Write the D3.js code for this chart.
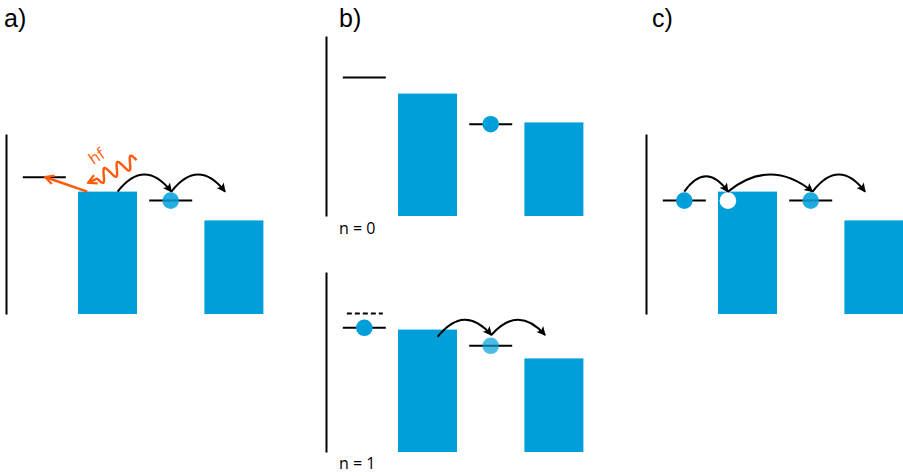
<!DOCTYPE html>
<html>
<head>
<meta charset="utf-8">
<script src="https://cdn.jsdelivr.net/npm/d3@7"></script>
<style>
    body { margin: 0; background: #fff; }
</style>
</head>
<body>
<div id="canvas"></div>
<script>
"use strict"

/* energies are in arbitrary units: 0 = bottom of a panel, 100 = top of its axis
   sites: 0 = left level, 1 = first barrier, 2 = middle level, 3 = second barrier */
const panelLabels = ["a)", "b)", "c)"];
const stateLabels = ["n = 0", "n = 1"];
const photonLabel = "hf";

const barSites = [1, 3];
const barTops = [68, 52];

/* level lines: [site, energy] */
const levelsA = [[0, 76], [2, 63]];
const levelsB0 = [[0, 77], [2, 51]];
const levelsB1 = [[0, 69], [2, 59]];
const dashedB1 = [[0, 77]];
const levelsC = [[0, 63], [2, 63]];

/* electrons: [site, energy, opacity] */
const electronsA = [[2, 63, 0.85]];
const electronsB0 = [[2, 51, 1]];
const electronsB1 = [[0, 69, 1], [2, 59, 0.7]];
const electronsC = [[0, 63, 1], [2, 63, 0.88]];

/* holes: [site, energy] */
const holesC = [[0.69, 63]];

/* hops: [site from, energy from, site to, energy to, peak energy] */
const hopsA = [[1.16, 68, 2.01, 68, 77.5], [2.01, 68, 2.86, 68, 77.5]];
const hopsB1 = [[1.16, 64, 2.01, 65, 73.5], [2.01, 65, 2.86, 65, 73.5]];
const hopsC = [[0, 68, 0.69, 68, 76.5], [0.69, 68, 2.03, 68, 77.5], [2.03, 68, 2.86, 68, 77.5]];

/* photon emission in panel a: [site, energy] */
const emissionA = [[0.68, 68], [0.02, 76]];
const photonA = [[1.46, 85.5], [0.7, 73]];
const photonTextA = [0.84, 87];

const blue = "#009fda";
const orange = "#ff5a0a";

let drawing = d3.select("#canvas")
    .append("svg")
    .attr("width", 903)
    .attr("height", 476);

/* scales shared by every panel */
let x = d3.scaleLinear().domain([0, 3]).range([44.3, 233.9]);
let y = d3.scaleLinear().domain([0, 100]).range([0, -180]);

/* markers for arrow heads */
let defs = drawing.append("defs");
defs.append("marker")
    .attr("id", "headBlack")
    .attr("markerUnits", "userSpaceOnUse")
    .attr("viewBox", "-10 -6 12 12")
    .attr("markerWidth", 12)
    .attr("markerHeight", 12)
    .attr("orient", "auto")
    .append("path")
    .attr("d", "M-8,-4.5 L1,0 L-8,4.5 L-6,0 Z")
    .attr("fill", "black");

defs.append("marker")
    .attr("id", "headOrange")
    .attr("markerUnits", "userSpaceOnUse")
    .attr("viewBox", "-10 -6 12 12")
    .attr("markerWidth", 12)
    .attr("markerHeight", 12)
    .attr("orient", "auto")
    .append("path")
    .attr("d", "M-8,-4.5 L0.5,0 L-8,4.5")
    .attr("fill", "none")
    .attr("stroke", orange)
    .attr("stroke-width", 2.2);

/* one panel of the diagram */
function drawPanel(left, base, levels, dashed, electrons, holes, hops) {
    let g = drawing.append("g")
        .attr("transform", "translate(" + left + "," + base + ")");

    /* energy axis, plain line without ticks */
    g.append("g")
        .attr("transform", "translate(6,0)")
        .call(d3.axisLeft(y).ticks(0).tickSizeOuter(0))
        .select(".domain")
        .attr("stroke-width", 2);

    /* barriers */
    g.selectAll(".bar")
        .data(barSites.map((s, i) => [s, barTops[i]]))
        .enter().append("rect")
        .attr("x", d => x(d[0]) - 29.5)
        .attr("y", d => y(d[1]))
        .attr("width", 59)
        .attr("height", d => y(0) - y(d[1]))
        .attr("fill", blue);

    /* levels */
    g.selectAll(".level")
        .data(levels)
        .enter().append("line")
        .attr("x1", d => x(d[0]) - 21.5)
        .attr("x2", d => x(d[0]) + 21.5)
        .attr("y1", d => y(d[1]))
        .attr("y2", d => y(d[1]))
        .attr("stroke", "black")
        .attr("stroke-width", 2);

    g.selectAll(".dashed")
        .data(dashed)
        .enter().append("line")
        .attr("x1", d => x(d[0]) - 17.5)
        .attr("x2", d => x(d[0]) + 18.5)
        .attr("y1", d => y(d[1]))
        .attr("y2", d => y(d[1]))
        .attr("stroke", "black")
        .attr("stroke-width", 2)
        .attr("stroke-dasharray", "5,3");

    /* electrons and holes */
    g.selectAll(".electron")
        .data(electrons)
        .enter().append("circle")
        .attr("cx", d => x(d[0]))
        .attr("cy", d => y(d[1]))
        .attr("r", 8.3)
        .attr("fill", blue)
        .attr("fill-opacity", d => d[2]);

    g.selectAll(".hole")
        .data(holes)
        .enter().append("circle")
        .attr("cx", d => x(d[0]))
        .attr("cy", d => y(d[1]))
        .attr("r", 8.3)
        .attr("fill", "white");

    /* hopping arcs */
    g.selectAll(".hop")
        .data(hops)
        .enter().append("path")
        .attr("d", d => {
            let x0 = x(d[0]), y0 = y(d[1]), x1 = x(d[2]), y1 = y(d[3]);
            let cy = 2 * y(d[4]) - (y0 + y1) / 2;
            return "M" + x0 + "," + y0 + " Q" + (x0 + x1) / 2 + "," + cy + " " + x1 + "," + y1;
        })
        .attr("fill", "none")
        .attr("stroke", "black")
        .attr("stroke-width", 2)
        .attr("marker-end", "url(#headBlack)");

    return g;
}

let panelA = drawPanel(0, 314, levelsA, [], electronsA, [], hopsA);
drawPanel(320, 216, levelsB0, [], electronsB0, [], []);
drawPanel(320, 452, levelsB1, dashedB1, electronsB1, [], hopsB1);
drawPanel(640, 314, levelsC, [], electronsC, holesC, hopsC);

/* emission arrow into the left level */
panelA.append("line")
    .attr("x1", x(emissionA[0][0]))
    .attr("y1", y(emissionA[0][1]))
    .attr("x2", x(emissionA[1][0]))
    .attr("y2", y(emissionA[1][1]))
    .attr("stroke", orange)
    .attr("stroke-width", 2.5)
    .attr("marker-end", "url(#headOrange)");

/* wavy photon glyph, drawn from its tail to the arrow tip */
let px0 = x(photonA[0][0]), py0 = y(photonA[0][1]);
let px1 = x(photonA[1][0]), py1 = y(photonA[1][1]);
let len = Math.hypot(px1 - px0, py1 - py0);
let ux = (px1 - px0) / len, uy = (py1 - py0) / len;
let wave = [];
for (let t = 0; t <= 1.0001; t += 0.01) {
    let a = t < 0.82 ? 6.5 * Math.sin(t / 0.82 * 3 * 2 * Math.PI) : 0;
    wave.push([px0 + ux * len * t - uy * a, py0 + uy * len * t + ux * a]);
}
panelA.append("path")
    .attr("d", d3.line().curve(d3.curveBasis)(wave))
    .attr("fill", "none")
    .attr("stroke", orange)
    .attr("stroke-width", 2.4)
    .attr("marker-end", "url(#headOrange)");

panelA.append("text")
    .attr("transform", "translate(" + x(photonTextA[0]) + "," + y(photonTextA[1]) + ") rotate(-35)")
    .attr("text-anchor", "middle")
    .attr("dominant-baseline", "middle")
    .attr("font-family", "Open Sans, sans-serif")
    .attr("font-size", 16)
    .attr("fill", orange)
    .text(photonLabel);

/* panel letters */
drawing.selectAll(".panelLabel")
    .data(panelLabels)
    .enter().append("text")
    .attr("x", (d, i) => [4, 339, 652][i])
    .attr("y", 27)
    .attr("font-family", "Liberation Sans, Arial, sans-serif")
    .attr("font-size", 25)
    .attr("fill", "black")
    .text(d => d);

/* state labels of panel b */
drawing.selectAll(".stateLabel")
    .data(stateLabels)
    .enter().append("text")
    .attr("x", 339)
    .attr("y", (d, i) => [234, 469][i])
    .attr("font-family", "Open Sans, sans-serif")
    .attr("font-size", 16)
    .attr("fill", "black")
    .text(d => d);
</script>
</body>
</html>
